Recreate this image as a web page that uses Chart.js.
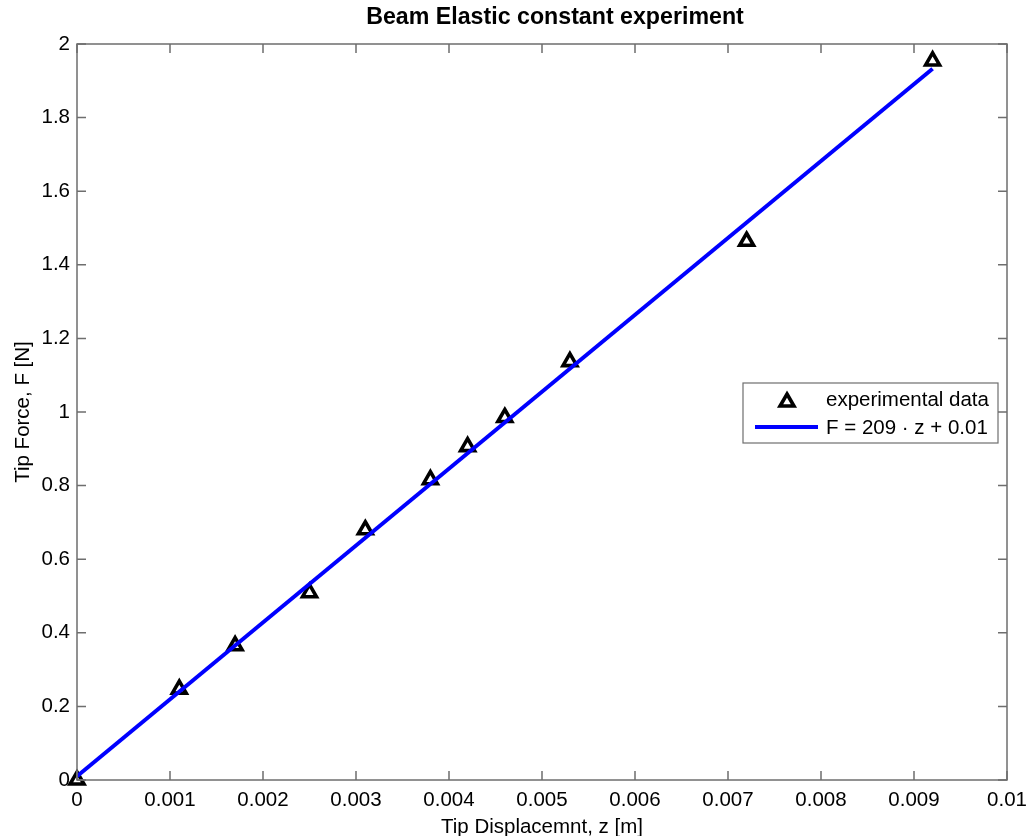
<!DOCTYPE html>
<html>
<head>
<meta charset="utf-8">
<title>Beam Elastic constant experiment</title>
<script src="https://cdn.jsdelivr.net/npm/chart.js@4.4.1/dist/chart.umd.min.js"></script>
<style>
  html, body { margin: 0; padding: 0; background: #fff; }
  #beam-chart { display: block; }
</style>
</head>
<body>
<canvas id="beam-chart" width="1029" height="836"></canvas>
<script>
// measured tip displacement [m] and tip force [N]
const tipDisplacement = [0, 0.0011, 0.0017, 0.0025, 0.0031, 0.0038, 0.0042, 0.0046, 0.0053, 0.0072, 0.0092];
const tipForce = [0, 0.247, 0.365, 0.509, 0.68, 0.816, 0.906, 0.985, 1.137, 1.464, 1.954];

// linear fit F = k * z + c, drawn over the measured range
const fitSlope = 209;
const fitIntercept = 0.01;
const fitRange = [0, 0.0092];

const xTicks = [0, 0.001, 0.002, 0.003, 0.004, 0.005, 0.006, 0.007, 0.008, 0.009, 0.01];
const yTicks = [0, 0.2, 0.4, 0.6, 0.8, 1, 1.2, 1.4, 1.6, 1.8, 2];

const FONT = "'Liberation Sans', Arial, Helvetica, sans-serif";
const AXIS_COLOR = '#6e6e6e';
const TICK_LEN = 9;
const TITLE = 'Beam Elastic constant experiment';

const measured = tipDisplacement.map((z, i) => ({ x: z, y: tipForce[i] }));
const fitLine = fitRange.map((z) => ({ x: z, y: fitSlope * z + fitIntercept }));

const fmt = (v) => String(Number(v.toFixed(4)));

// title over the plot, a little right of the axes centre
const plotTitle = {
  id: 'plotTitle',
  afterDraw(chart) {
    const { ctx, chartArea: a } = chart;
    ctx.save();
    ctx.fillStyle = '#000';
    ctx.font = `bold 23.2px ${FONT}`;
    ctx.textAlign = 'center';
    ctx.textBaseline = 'middle';
    ctx.fillText(TITLE, (a.left + a.right) / 2 + 13, 18);
    ctx.restore();
  },
};

// box around the plot with inward ticks on all four sides
const axesBox = {
  id: 'axesBox',
  afterDatasetsDraw(chart) {
    const { ctx, chartArea: a, scales } = chart;
    ctx.save();
    ctx.strokeStyle = AXIS_COLOR;
    ctx.lineWidth = 1.5;
    ctx.strokeRect(a.left, a.top, a.right - a.left, a.bottom - a.top);
    ctx.beginPath();
    xTicks.forEach((v) => {
      const px = scales.x.getPixelForValue(v);
      ctx.moveTo(px, a.bottom); ctx.lineTo(px, a.bottom - TICK_LEN);
      ctx.moveTo(px, a.top); ctx.lineTo(px, a.top + TICK_LEN);
    });
    yTicks.forEach((v) => {
      const py = scales.y.getPixelForValue(v);
      ctx.moveTo(a.left, py); ctx.lineTo(a.left + TICK_LEN, py);
      ctx.moveTo(a.right, py); ctx.lineTo(a.right - TICK_LEN, py);
    });
    ctx.stroke();
    ctx.restore();
  },
};

// legend box on the right side of the plot
const boxLegend = {
  id: 'boxLegend',
  afterDraw(chart) {
    const { ctx } = chart;
    const [pts, line] = chart.data.datasets;
    const bx = 743, by = 383, bw = 255, bh = 60;
    ctx.save();
    ctx.fillStyle = '#fff';
    ctx.fillRect(bx, by, bw, bh);
    ctx.strokeStyle = AXIS_COLOR;
    ctx.lineWidth = 1.2;
    ctx.strokeRect(bx, by, bw, bh);

    ctx.fillStyle = '#fff';
    ctx.strokeStyle = pts.borderColor;
    ctx.lineWidth = pts.pointBorderWidth;
    Chart.helpers.drawPoint(ctx, {
      pointStyle: 'triangle', radius: pts.pointRadius, rotation: 0, borderWidth: pts.pointBorderWidth,
    }, 787, 402);

    ctx.strokeStyle = line.borderColor;
    ctx.lineWidth = line.borderWidth;
    ctx.beginPath();
    ctx.moveTo(755, 427);
    ctx.lineTo(818, 427);
    ctx.stroke();

    ctx.fillStyle = '#000';
    ctx.font = `20.5px ${FONT}`;
    ctx.textAlign = 'left';
    ctx.textBaseline = 'middle';
    ctx.fillText(pts.label, 826, 400);
    ctx.fillText(line.label, 826, 428);
    ctx.restore();
  },
};

const ctx = document.getElementById('beam-chart').getContext('2d');
// eslint-disable-next-line no-unused-vars
const chart = new Chart(ctx, {
  type: 'scatter',
  data: {
    datasets: [{
      label: 'experimental data',
      data: measured,
      pointStyle: 'triangle',
      pointRadius: 8,
      pointBorderWidth: 3.6,
      borderWidth: 3.6,
      borderColor: '#000',
      backgroundColor: '#fff',
      pointBackgroundColor: '#fff',
      showLine: false,
      clip: false,
      order: 1,
    }, {
      label: 'F = 209 · z + 0.01',
      data: fitLine,
      showLine: true,
      pointRadius: 0,
      borderColor: '#0000ff',
      borderWidth: 4,
      fill: false,
      clip: false,
      order: 0,
    }],
  },
  options: {
    responsive: false,
    animation: false,
    layout: { padding: { left: 0, right: 22, top: 44, bottom: 0 } },
    plugins: {
      legend: { display: false },
      tooltip: { enabled: false },
      title: { display: false },
    },
    scales: {
      x: {
        type: 'linear',
        min: 0,
        max: 0.01,
        afterFit: (scale) => {
          scale.height = 56;
          scale.paddingLeft = 0;
          scale.paddingRight = 0;
        },
        afterBuildTicks: (scale) => { scale.ticks = xTicks.map((v) => ({ value: v })); },
        grid: { display: false, drawTicks: false },
        border: { display: false },
        ticks: {
          autoSkip: false,
          maxRotation: 0,
          padding: 8,
          color: '#000',
          font: { family: FONT, size: 20.5 },
          callback: (v) => fmt(v),
        },
        title: {
          display: true,
          text: 'Tip Displacemnt, z [m]',
          color: '#000',
          font: { family: FONT, size: 20.5, lineHeight: 0.8 },
          padding: { top: 0, bottom: 0 },
        },
      },
      y: {
        type: 'linear',
        min: 0,
        max: 2,
        afterFit: (scale) => {
          scale.width = 77;
          scale.paddingTop = 0;
          scale.paddingBottom = 0;
        },
        afterBuildTicks: (scale) => { scale.ticks = yTicks.map((v) => ({ value: v })); },
        grid: { display: false, drawTicks: false },
        border: { display: false },
        ticks: {
          autoSkip: false,
          padding: 7,
          color: '#000',
          font: { family: FONT, size: 20.5 },
          callback: (v) => fmt(v),
        },
        title: {
          display: true,
          text: 'Tip Force, F [N]',
          color: '#000',
          font: { family: FONT, size: 20.5, lineHeight: 1 },
          padding: { top: 13, bottom: 0 },
        },
      },
    },
  },
  plugins: [plotTitle, axesBox, boxLegend],
});
</script>
</body>
</html>
